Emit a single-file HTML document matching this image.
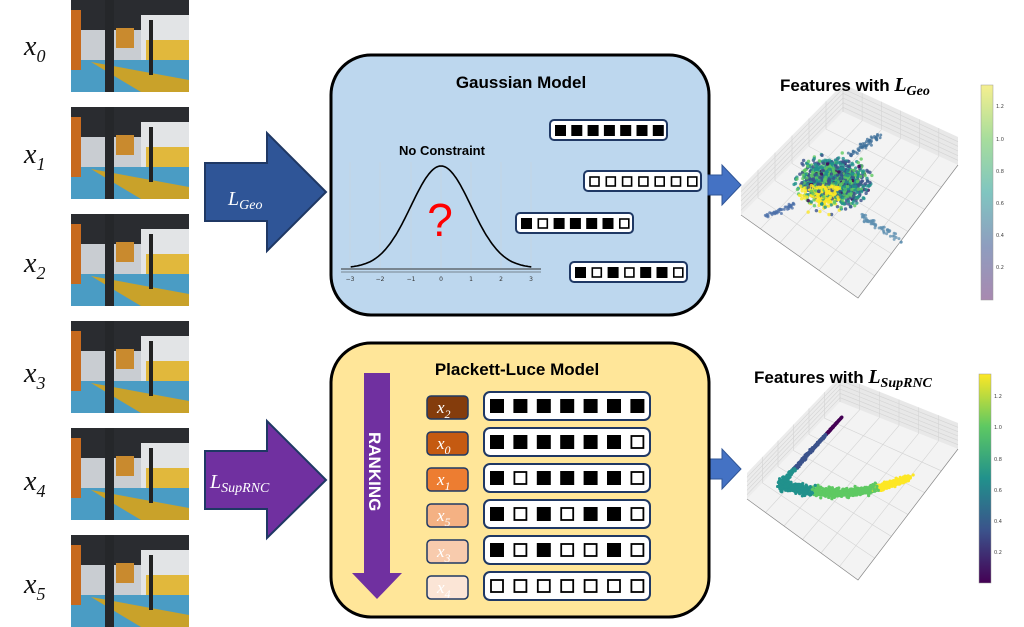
<!DOCTYPE html>
<html><head><meta charset="utf-8"><style>
html,body{margin:0;padding:0;background:#fff;width:1024px;height:627px;overflow:hidden}
svg{display:block}
.m{font-family:"Liberation Serif","DejaVu Serif",serif;font-style:italic}
.b{font-family:"Liberation Sans","DejaVu Sans",sans-serif;font-weight:bold}
</style></head><body>
<svg id="s" width="1024" height="627" viewBox="0 0 1024 627" xmlns="http://www.w3.org/2000/svg">
<defs>
<linearGradient id="vir" x1="0" y1="1" x2="0" y2="0">
<stop offset="0" stop-color="#440154"/><stop offset="0.25" stop-color="#3b528b"/><stop offset="0.5" stop-color="#21918c"/><stop offset="0.75" stop-color="#5ec962"/><stop offset="1" stop-color="#fde725"/></linearGradient>
<linearGradient id="vira" x1="0" y1="1" x2="0" y2="0">
<stop offset="0" stop-color="#a889b0"/><stop offset="0.25" stop-color="#8e9dbf"/><stop offset="0.5" stop-color="#80c5c0"/><stop offset="0.75" stop-color="#a7dd9c"/><stop offset="1" stop-color="#f5ef8f"/></linearGradient>
<g id="ph">
<rect width="118" height="92" fill="#8a8f96"/>
<rect width="118" height="30" fill="#2a2c30"/>
<rect x="0" y="30" width="118" height="30" fill="#c9cdd2"/>
<rect x="70" y="15" width="48" height="45" fill="#e2e4e6"/>
<rect x="75" y="40" width="43" height="25" fill="#e1b83c"/>
<polygon points="0,60 118,60 118,92 0,92" fill="#4a9cc4"/>
<polygon points="20,62 118,80 118,92 70,92" fill="#c9a22a"/>
<rect x="0" y="10" width="10" height="60" fill="#c76a1e"/>
<rect x="45" y="28" width="18" height="20" fill="#c98a2e"/>
<rect x="34" y="0" width="9" height="92" fill="#25272a"/>
<rect x="78" y="20" width="4" height="55" fill="#222"/>
</g>
</defs>
<g class="m" font-size="28" fill="#111">
<text x="24" y="55">x<tspan font-size="18" dy="7">0</tspan></text>
<text x="24" y="163">x<tspan font-size="18" dy="7">1</tspan></text>
<text x="24" y="272">x<tspan font-size="18" dy="7">2</tspan></text>
<text x="24" y="382">x<tspan font-size="18" dy="7">3</tspan></text>
<text x="24" y="490">x<tspan font-size="18" dy="7">4</tspan></text>
<text x="24" y="593">x<tspan font-size="18" dy="7">5</tspan></text>
</g>
<use href="#ph" x="71" y="0"/><use href="#ph" x="71" y="107"/><use href="#ph" x="71" y="214"/>
<use href="#ph" x="71" y="321"/><use href="#ph" x="71" y="428"/><use href="#ph" x="71" y="535"/>
<polygon points="205,163 267,163 267,133 326,192 267,251 267,221 205,221" fill="#2f5597" stroke="#1f3864" stroke-width="2"/>
<text x="228" y="205" class="m" font-size="20" fill="#fff">L<tspan font-size="14" dy="4">Geo</tspan></text>
<polygon points="205,451 267,451 267,421 326,480 267,538 267,509 205,509" fill="#7030a0" stroke="#1f3864" stroke-width="2"/>
<text x="210" y="488" class="m" font-size="20" fill="#fff">L<tspan font-size="14" dy="4">SupRNC</tspan></text>
<rect x="331" y="55" width="378" height="260" rx="40" fill="#bdd7ee" stroke="#000" stroke-width="3"/>
<text x="521" y="88" class="b" font-size="17" text-anchor="middle">Gaussian Model</text>
<text x="442" y="155" class="b" font-size="13" text-anchor="middle">No Constraint</text>
<g stroke="#c8d4de" stroke-width="0.6">
<line x1="350" y1="162" x2="350" y2="268"/><line x1="380" y1="162" x2="380" y2="268"/><line x1="411" y1="162" x2="411" y2="268"/><line x1="441" y1="162" x2="441" y2="268"/><line x1="471" y1="162" x2="471" y2="268"/><line x1="501" y1="162" x2="501" y2="268"/><line x1="531" y1="162" x2="531" y2="268"/></g>
<line x1="341" y1="269" x2="541" y2="269" stroke="#333" stroke-width="1"/>
<line x1="341" y1="272" x2="541" y2="272" stroke="#333" stroke-width="0.6"/>
<path id="gc" fill="none" stroke="#000" stroke-width="1.6"/>
<g font-family="DejaVu Sans,sans-serif" font-size="6" fill="#333" text-anchor="middle">
<text x="350" y="281">−3</text><text x="380" y="281">−2</text><text x="411" y="281">−1</text><text x="441" y="281">0</text><text x="471" y="281">1</text><text x="501" y="281">2</text><text x="531" y="281">3</text></g>
<text x="440" y="236" font-family="Liberation Sans,sans-serif" font-size="46" fill="#ff0000" text-anchor="middle">?</text>
<g id="gbars"></g>
<polygon points="708,175 722,175 722,165 741,185 722,205 722,195 708,195" fill="#4472c4" stroke="#2f5597" stroke-width="1"/>
<polygon points="708,459 722,459 722,449 741,469 722,489 722,479 708,479" fill="#4472c4" stroke="#2f5597" stroke-width="1"/>
<rect x="331" y="343" width="378" height="274" rx="40" fill="#ffe699" stroke="#000" stroke-width="3"/>
<text x="517" y="375" class="b" font-size="17" text-anchor="middle">Plackett-Luce Model</text>
<polygon points="364,373 390,373 390,573 402,573 377,599 352,573 364,573" fill="#7030a0"/>
<text transform="translate(369,432) rotate(90)" class="b" font-size="17" fill="#fff">RANKING</text>
<g id="plrows"></g>
<g id="p1"></g><g id="p2"></g>
<text x="780" y="91" class="b" font-size="17">Features with <tspan class="m" font-size="20">L</tspan><tspan class="m" font-size="14" dy="4">Geo</tspan></text>
<text x="754" y="383" class="b" font-size="17">Features with <tspan class="m" font-size="20">L</tspan><tspan class="m" font-size="14" dy="4">SupRNC</tspan></text>
<rect x="981" y="85" width="12" height="215" fill="url(#vira)" stroke="#999" stroke-width="0.5"/>
<rect x="979" y="374" width="12" height="209" fill="url(#vir)" stroke="#999" stroke-width="0.5"/>
<g font-family="DejaVu Sans,sans-serif" font-size="5" fill="#444">
<text x="996" y="108">1.2</text><text x="996" y="141">1.0</text><text x="996" y="173">0.8</text><text x="996" y="205">0.6</text><text x="996" y="237">0.4</text><text x="996" y="269">0.2</text>
<text x="994" y="398">1.2</text><text x="994" y="429">1.0</text><text x="994" y="461">0.8</text><text x="994" y="492">0.6</text><text x="994" y="523">0.4</text><text x="994" y="554">0.2</text>
</g>
</svg>
<script>
var NS="http://www.w3.org/2000/svg";
function el(p,t,a){var e=document.createElementNS(NS,t);for(var k in a)e.setAttribute(k,a[k]);p.appendChild(e);return e;}
var d="";for(var i=0;i<=120;i++){var x=-3+i*0.05,px=441+x*30.1,py=268-102*Math.exp(-x*x/2);d+=(i?"L":"M")+px.toFixed(1)+","+py.toFixed(1);}
document.getElementById('gc').setAttribute('d',d);
var gb=document.getElementById('gbars');
var G=[[550,120,"1111111"],[584,171,"0000000"],[516,213,"1011110"],[570,262,"1010110"]];
G.forEach(function(g){el(gb,'rect',{x:g[0],y:g[1],width:117,height:20,rx:4,fill:'#fff',stroke:'#1f3864','stroke-width':2});
for(var j=0;j<7;j++){var f=g[2][j]=='1';el(gb,'rect',{x:g[0]+5+j*16.3+(f?0:1),y:g[1]+5+(f?0:1),width:f?11:9,height:f?11:9,fill:f?'#000':'#fff',stroke:'#000','stroke-width':f?0:1.6});}});
var pr=document.getElementById('plrows');
var R=[["2","#843c0c","1111111"],["0","#c55a11","1111110"],["1","#ed7d31","1011110"],["5","#f4b183","1010110"],["3","#f8cbad","1010010"],["4","#fbe5d6","0000000"]];
R.forEach(function(r,i){var y=396+i*36;
el(pr,'rect',{x:427,y:y,width:41,height:23,rx:4,fill:r[1],stroke:'#1f3864','stroke-width':1.5});
var t=el(pr,'text',{x:437,y:y+17,'class':'m','font-size':17,fill:'#fff'});t.textContent='x';var ts=el(t,'tspan',{'font-size':12,dy:5});ts.textContent=r[0];
el(pr,'rect',{x:484,y:y-4,width:166,height:28,rx:6,fill:'#fff',stroke:'#1f3864','stroke-width':2});
for(var j=0;j<7;j++){var f=r[2][j]=='1';el(pr,'rect',{x:490+j*23.4+(f?0:1),y:y+3+(f?0:1),width:f?14:12,height:f?14:12,fill:f?'#000':'#fff',stroke:'#000','stroke-width':f?0:1.8});}});
function lerp(a,b,t){return [a[0]+(b[0]-a[0])*t,a[1]+(b[1]-a[1])*t];}
function ln(g,a,b,c,w){el(g,'line',{x1:a[0],y1:a[1],x2:b[0],y2:b[1],stroke:c||'#d4d4d4','stroke-width':w||0.6});}
function frame(g,L,B,Rt,T,h){
el(g,'polygon',{points:[L,B,Rt,T].map(function(p){return p.join(',')}).join(' '),fill:'#f3f3f3'});
var LT=[L[0],L[1]-h],RT=[Rt[0],Rt[1]-h],TT=[T[0],T[1]-h];
el(g,'polygon',{points:[L,T,TT,LT].map(function(p){return p.join(',')}).join(' '),fill:'#ececec'});
el(g,'polygon',{points:[Rt,T,TT,RT].map(function(p){return p.join(',')}).join(' '),fill:'#e8e8e8'});
for(var k=1;k<6;k++){var a=k/6;
ln(g,lerp(L,B,a),lerp(T,Rt,a));ln(g,lerp(B,Rt,a),lerp(L,T,a));
var p=lerp(L,T,a);ln(g,p,[p[0],p[1]-h]);p=lerp(T,Rt,a);ln(g,p,[p[0],p[1]-h]);
ln(g,lerp(L,LT,a),lerp(T,TT,a));ln(g,lerp(Rt,RT,a),lerp(T,TT,a));}
ln(g,T,TT,'#ccc');
el(g,'polyline',{points:[L,B,Rt].map(function(p){return p.join(',')}).join(' '),fill:'none',stroke:'#888','stroke-width':0.7});}
var p1=document.getElementById('p1'),p2=document.getElementById('p2');
frame(p1,[741,215],[858,298],[958,165],[843,112],28);
frame(p2,[747,499],[858,580],[958,449],[840,402],26);
var seed=7;function rnd(){seed=(seed*16807)%2147483647;return seed/2147483647;}
function gs(){return (rnd()+rnd()+rnd()+rnd()-2)*0.9;}
var vc=['#440154','#3b528b','#21918c','#5ec962','#fde725'];
function vir(t,c){t=Math.max(0,Math.min(0.999,t))*4;var i=Math.floor(t);return c[Math.min(i+(t-i>0.5?1:0),4)];}
for(var i=0;i<1800;i++){var x=833+gs()*26,y=183+gs()*20;var tt=rnd()*0.75+0.1;if(x<840&&y>185&&rnd()<0.6)tt=0.95;el(p1,'circle',{cx:x,cy:y,r:1.7,fill:vir(tt,vc),opacity:0.8});}
for(var i=0;i<60;i++){var t=rnd();el(p1,'circle',{cx:860+t*40+gs()*3,cy:215+t*25+gs()*4,r:1.5,fill:'#5d8fb0',opacity:0.75});}
for(var i=0;i<40;i++){var t=rnd();el(p1,'circle',{cx:795-t*30+gs()*3,cy:205+t*12+gs()*3,r:1.5,fill:'#4b6fa8',opacity:0.75});}
for(var i=0;i<50;i++){var t=rnd();el(p1,'circle',{cx:850+t*30+gs()*3,cy:155-t*20+gs()*3,r:1.5,fill:'#3e6f9a',opacity:0.75});}
for(var i=0;i<1800;i++){var t=rnd();var x,y;
if(t<0.3){var u=t/0.3;x=842-u*(842-780);y=417+u*(485-417);x+=gs()*2.5*u;y+=gs()*2*u;}
else{var u=(t-0.3)/0.7;x=780+u*(130);y=485+Math.sin(u*Math.PI*0.9)*14-u*12;y+=gs()*5*(1-u*0.5);x+=gs()*3;}
el(p2,'circle',{cx:x,cy:y,r:1.6,fill:vir(t<0.3?t/0.3*0.5:0.5+(t-0.3)/0.7*0.5,vc)});}
</script>
</body></html>
